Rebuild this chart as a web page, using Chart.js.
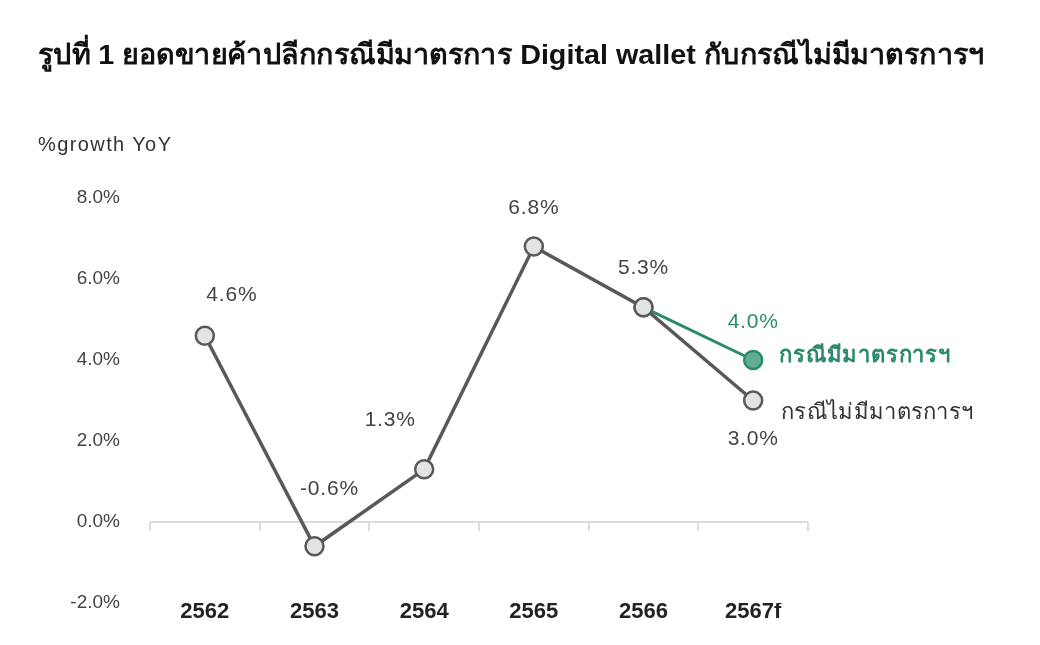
<!DOCTYPE html>
<html>
<head>
<meta charset="utf-8">
<script src="https://cdn.jsdelivr.net/npm/chart.js@4/dist/chart.umd.min.js"></script>
<style>
  body { margin: 0; background: #fff; width: 1040px; height: 645px; overflow: hidden; position: relative; }
  #title { position: absolute; left: 38px; top: 32px; font: bold 28px "Liberation Sans Narrow", "Liberation Sans", "Noto Sans", sans-serif; color: #111; white-space: nowrap; transform-origin: left center; }
  #unit { position: absolute; left: 38px; top: 133px; font: 20px "Liberation Sans", "DejaVu Sans", sans-serif; letter-spacing: 1.4px; color: #333; }
  #wrap { position: absolute; left: 0; top: 0; width: 1040px; height: 645px; }
</style>
</head>
<body>
<div id="wrap"><canvas id="chart" width="1040" height="645"></canvas></div>
<div id="title">รูปที่ 1 ยอดขายค้าปลีกกรณีมีมาตรการ Digital wallet กับกรณีไม่มีมาตรการฯ</div>
<div id="unit">%growth YoY</div>
<script>
// data
const years = ["2562", "2563", "2564", "2565", "2566", "2567f"];
const noMeasure = [4.6, -0.6, 1.3, 6.8, 5.3, 3.0];
const withMeasure = [null, null, null, null, 5.3, 4.0];
const seriesNames = ["กรณีไม่มีมาตรการฯ", "กรณีมีมาตรการฯ"];
const yTicks = [-2, 0, 2, 4, 6, 8];

const grey = "#595959";
const green = "#2b8a6e";

// stretch the title to the width it has in the original
const title = document.getElementById("title");
title.style.transform = "scaleX(" + (947 / title.offsetWidth) + ")";

// where each value label sits relative to its point
const labelOffsets = [
    [[27, -40], [15, -57], [-34, -49], [0, -38], [0, -39], [0, 39]],
    [null, null, null, null, null, [0, -38]]
];

// value labels + series names at line ends
const labelPlugin = {
    id: "labels",
    afterDatasetsDraw(chart) {
        const ctx = chart.ctx;
        ctx.save();
        ctx.textAlign = "center";
        ctx.textBaseline = "middle";
        ctx.letterSpacing = "0.8px";
        ctx.font = "21px 'Liberation Sans', 'DejaVu Sans', sans-serif";
        chart.data.datasets.forEach((ds, di) => {
            const meta = chart.getDatasetMeta(di);
            ctx.fillStyle = di === 0 ? "#444" : green;
            ds.data.forEach((v, i) => {
                const off = labelOffsets[di][i];
                if (v === null || !off) return;
                const p = meta.data[i];
                ctx.fillText(v.toFixed(1) + "%", p.x + off[0], p.y + off[1]);
            });
        });
        // series names
        ctx.textAlign = "left";
        ctx.letterSpacing = "0.8px";
        ctx.font = "bold 22px 'Noto Sans', 'Liberation Sans', sans-serif";
        const last = years.length - 1;
        const pg = chart.getDatasetMeta(1).data[last];
        ctx.fillStyle = green;
        ctx.fillText(seriesNames[1], pg.x + 26, pg.y - 4);
        const pn = chart.getDatasetMeta(0).data[last];
        ctx.fillStyle = "#333";
        ctx.letterSpacing = "0.3px";
        ctx.font = "22px 'Noto Sans', 'Liberation Sans', sans-serif";
        ctx.fillText(seriesNames[0], pn.x + 28, pn.y + 12);
        ctx.restore();
    }
};

// light zero line with small ticks between categories
const zeroLinePlugin = {
    id: "zeroLine",
    beforeDatasetsDraw(chart) {
        const ctx = chart.ctx;
        const x = chart.scales.x, y = chart.scales.y;
        const y0 = y.getPixelForValue(0);
        ctx.save();
        ctx.strokeStyle = "#dcdcdc";
        ctx.lineWidth = 2;
        ctx.beginPath();
        ctx.moveTo(chart.chartArea.left, y0);
        ctx.lineTo(chart.chartArea.right, y0);
        for (let i = 0; i <= years.length; i++) {
            const px = Math.round(x.getPixelForValue(i - 0.5));
            ctx.moveTo(px, y0);
            ctx.lineTo(px, y0 + 9);
        }
        ctx.stroke();
        ctx.restore();
    }
};

new Chart(document.getElementById("chart"), {
    type: "line",
    data: {
        labels: years,
        datasets: [
            {
                label: seriesNames[0],
                data: noMeasure,
                borderColor: grey,
                borderWidth: 3.5,
                pointRadius: 9,
                pointBackgroundColor: "#e2e4e2",
                pointBorderColor: grey,
                pointBorderWidth: 2.5,
                tension: 0
            },
            {
                label: seriesNames[1],
                data: withMeasure,
                borderColor: green,
                borderWidth: 3,
                pointRadius: 9,
                pointBackgroundColor: "#62ad92",
                pointBorderColor: green,
                pointBorderWidth: 2.5,
                tension: 0
            }
        ]
    },
    options: {
        responsive: false,
        animation: false,
        layout: { padding: { left: 0, right: 232, top: 198, bottom: 22 } },
        plugins: { legend: { display: false }, tooltip: { enabled: false } },
        scales: {
            x: {
                offset: true,
                grid: { display: false, drawTicks: false },
                border: { display: false },
                ticks: {
                    color: "#222",
                    padding: -4,
                    font: { family: "'Liberation Sans Narrow', 'Liberation Sans', sans-serif", size: 22, weight: "bold" }
                },
                afterFit(scale) { scale.height = 20; }
            },
            y: {
                min: -2,
                max: 8,
                grid: { display: false, drawTicks: false },
                border: { display: false },
                afterBuildTicks(scale) { scale.ticks = yTicks.map(v => ({ value: v })); },
                afterFit(scale) { scale.width = 150; },
                ticks: {
                    color: "#444",
                    padding: 30,
                    font: { family: "'Liberation Sans', 'DejaVu Sans', sans-serif", size: 19 },
                    callback: v => v.toFixed(1) + "%"
                }
            }
        }
    },
    plugins: [zeroLinePlugin, labelPlugin]
});
</script>
</body>
</html>
